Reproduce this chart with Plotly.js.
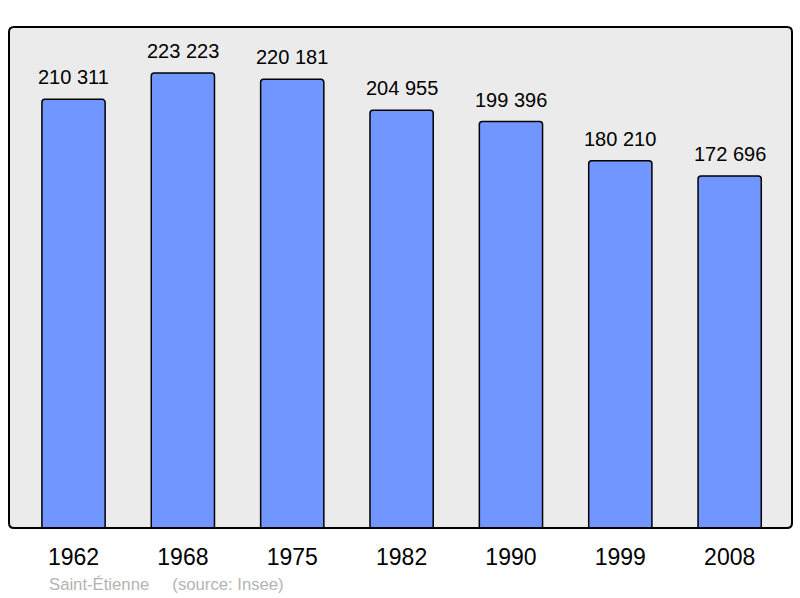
<!DOCTYPE html>
<html><head><meta charset="utf-8">
<script src="https://cdn.plot.ly/plotly-3.0.1.min.js"></script>
<style>html,body{margin:0;padding:0;background:#fff}#c{width:800px;height:598px}</style>
</head><body><div id="c"></div>
<script>
const years = ["1962","1968","1975","1982","1990","1999","2008"];
const population = [210311, 223223, 220181, 204955, 199396, 180210, 172696];
const populationLabels = ["210 311","223 223","220 181","204 955","199 396","180 210","172 696"];
const sourceText = "Saint-Étienne     (source: Insee)";

const xs = years.map((_, i) => i);
const trace = {
  type: 'bar', x: xs, y: population, width: 0.578,
  marker: {color: '#7196ff', line: {color: '#000', width: 1.5}, cornerradius: 3},
  hoverinfo: 'none'
};
const annotations = population.map((v, i) => ({
  x: i, y: v, xref: 'x', yref: 'y', text: populationLabels[i], showarrow: false,
  yanchor: 'bottom', yshift: 9, font: {family: 'Liberation Sans, Arial, sans-serif', size: 20, color: '#000'}
}));
annotations.push({
  xref: 'paper', yref: 'paper', x: 0.048, y: -0.112, xanchor: 'left', yanchor: 'middle',
  text: sourceText.replace(/ {2,}/g, m => '&nbsp;'.repeat(m.length)), showarrow: false,
  font: {family: 'Liberation Sans, Arial, sans-serif', size: 16.7, color: '#b4b4b4'}
});
const rx = 5 / 783, ry = 5 / 501;
const borderPath = `M ${rx} 0 L ${1 - rx} 0 Q 1 0 1 ${ry} L 1 ${1 - ry} Q 1 1 ${1 - rx} 1 L ${rx} 1 Q 0 1 0 ${1 - ry} L 0 ${ry} Q 0 0 ${rx} 0 Z`;
const layout = {
  width: 800, height: 598,
  margin: {l: 9, r: 8, t: 27, b: 70, pad: 0},
  paper_bgcolor: '#fff', plot_bgcolor: 'rgba(0,0,0,0)',
  showlegend: false,
  font: {family: 'Liberation Sans, Arial, sans-serif', color: '#000'},
  xaxis: {range: [-0.59, 6.57], tickmode: 'array', tickvals: xs, ticktext: years,
    showgrid: false, zeroline: false, showline: false, ticks: '', ticklen: 0,
    ticklabelstandoff: 13, tickfont: {size: 23}, fixedrange: true},
  yaxis: {range: [0, 245800], showgrid: false, zeroline: false, showline: false,
    showticklabels: false, ticks: '', fixedrange: true},
  shapes: [
    {type: 'path', xref: 'paper', yref: 'paper', path: borderPath,
     line: {width: 0}, fillcolor: '#ebebeb', layer: 'below'},
    {type: 'path', xref: 'paper', yref: 'paper', path: borderPath,
     line: {color: '#000', width: 2}, fillcolor: 'rgba(0,0,0,0)', layer: 'above'}],
  annotations: annotations
};
Plotly.newPlot('c', [trace], layout, {displayModeBar: false, staticPlot: true});
</script></body></html>
